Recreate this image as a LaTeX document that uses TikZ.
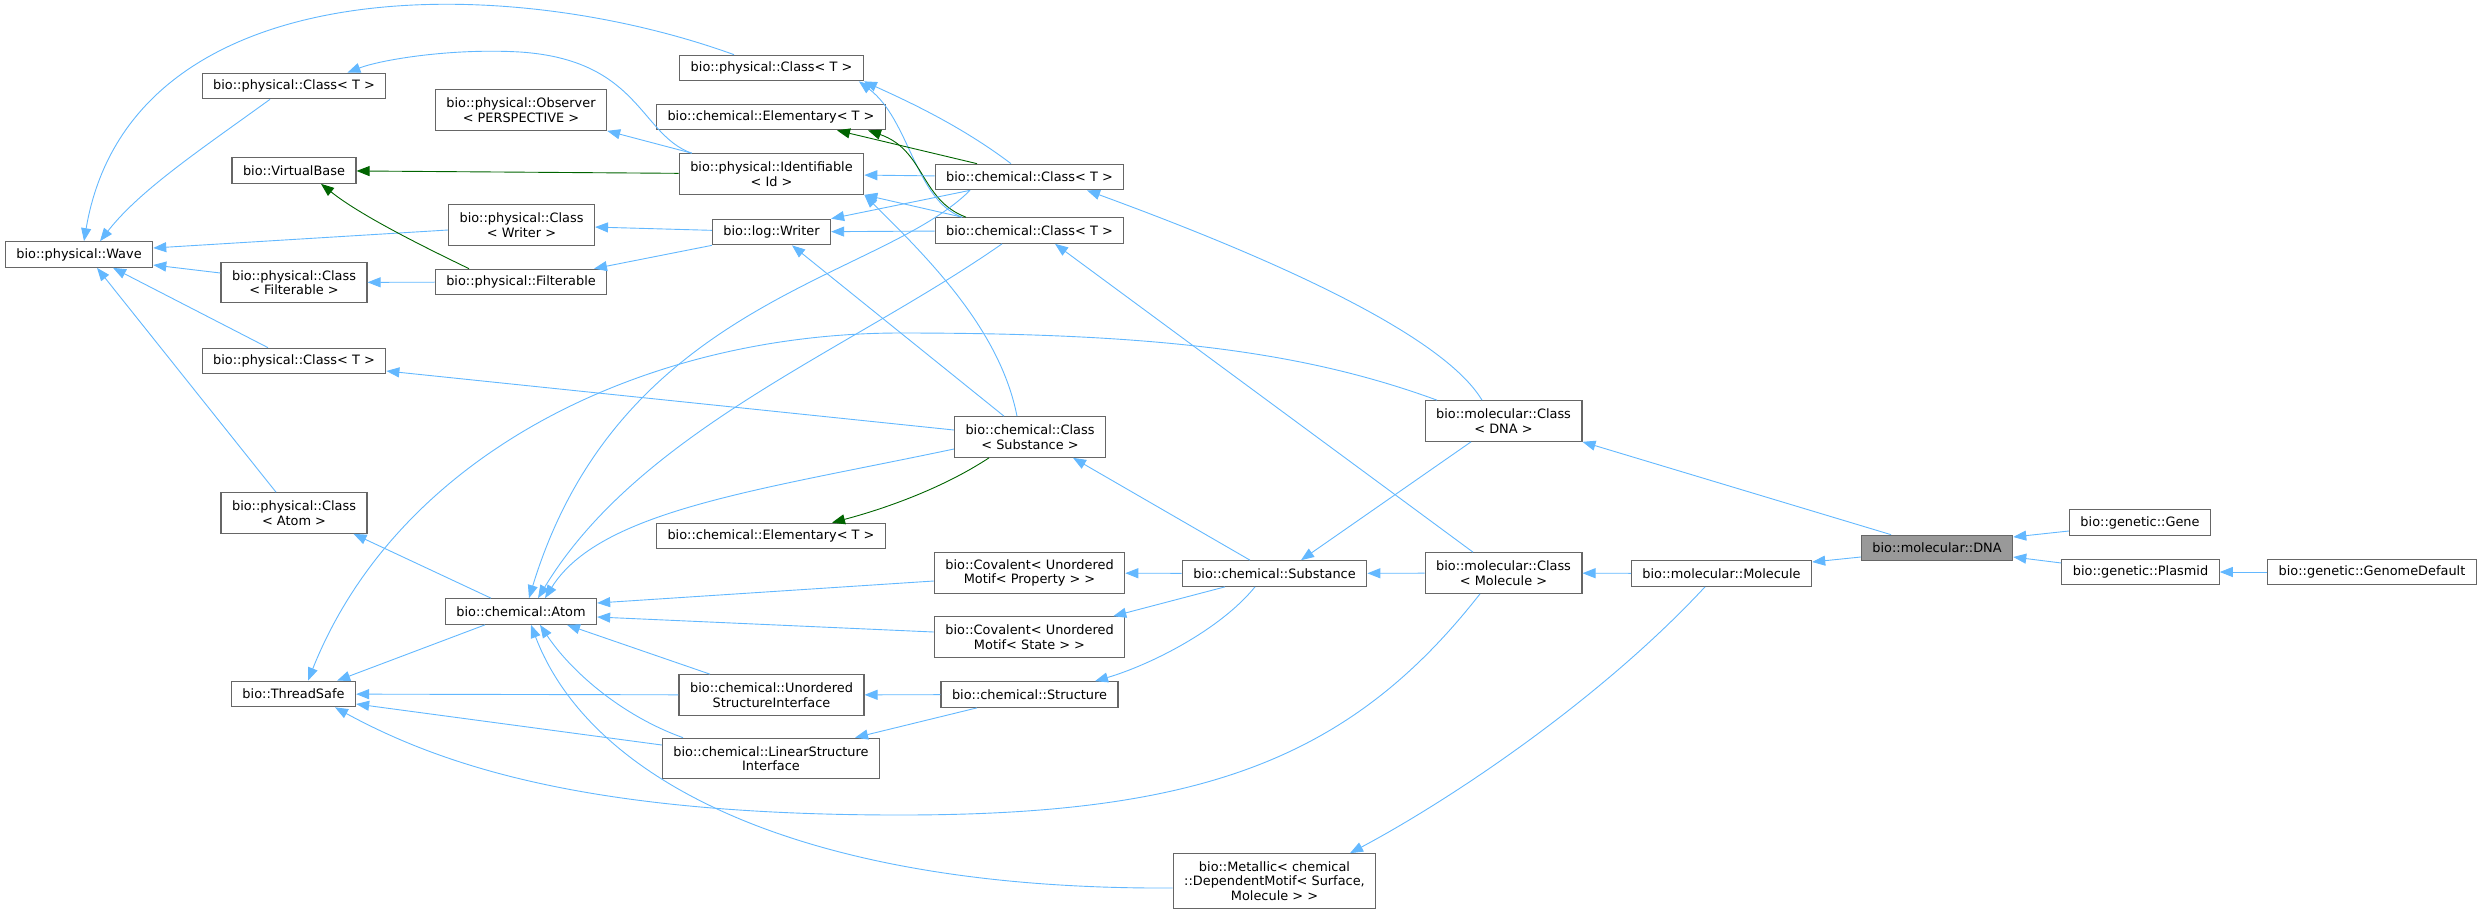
\documentclass[tikz,border=0pt]{standalone}
\usepackage{fontspec}
\setmainfont{DejaVu Sans}
\usetikzlibrary{arrows.meta,positioning}
\definecolor{EdgeBlue}{RGB}{99,184,255}
\definecolor{EdgeGreen}{RGB}{0,100,0}
\definecolor{BoxGrey}{RGB}{102,102,102}
\definecolor{FocusGrey}{RGB}{153,153,153}

\begin{document}
\begin{tikzpicture}[x=1pt,y=-1pt,
  cls/.style={draw=BoxGrey,line width=1.2pt,fill=white,inner xsep=11pt,inner ysep=2pt,
    minimum height=25.5pt,align=center,font=\fontsize{12.9}{14.5}\selectfont},
  two/.style={minimum height=40.5pt},
  three/.style={minimum height=54.5pt},
  inh/.style={-{Triangle[length=13pt,width=10pt]},EdgeBlue,line width=0.9pt},
  vinh/.style={-{Triangle[length=13pt,width=10pt]},EdgeGreen,line width=0.9pt}]
  \useasboundingbox (0,0) rectangle (2483,914);

  \node[cls] (wave) at (79,254.5) {bio::physical::Wave};
  \node[cls] (physA) at (294,86) {bio::physical::Class< T >};
  \node[cls] (physB) at (771.5,68) {bio::physical::Class< T >};
  \node[cls] (physC) at (294,361) {bio::physical::Class< T >};
  \node[cls,two] (observer) at (521,110) {bio::physical::Observer\\< PERSPECTIVE >};
  \node[cls] (vbase) at (294,170.5) {bio::VirtualBase};
  \node[cls,two] (clsWriter) at (521.5,225) {bio::physical::Class\\< Writer >};
  \node[cls,two] (clsFilt) at (294,282.5) {bio::physical::Class\\< Filterable >};
  \node[cls] (filterable) at (521,282) {bio::physical::Filterable};
  \node[cls,two] (clsAtom) at (294,513) {bio::physical::Class\\< Atom >};
  \node[cls,two] (ident) at (771.5,174) {bio::physical::Identifiable\\< Id >};
  \node[cls] (elemA) at (771,117) {bio::chemical::Elementary< T >};
  \node[cls] (writer) at (771.5,232) {bio::log::Writer};
  \node[cls] (chemA) at (1029.5,177) {bio::chemical::Class< T >};
  \node[cls] (chemB) at (1029.5,230.5) {bio::chemical::Class< T >};
  \node[cls,two] (chemSub) at (1030,437) {bio::chemical::Class\\< Substance >};
  \node[cls] (elemB) at (771,536) {bio::chemical::Elementary< T >};
  \node[cls,two] (covProp) at (1029.5,573) {bio::Covalent< Unordered\\Motif< Property > >};
  \node[cls,two] (covState) at (1029.5,637) {bio::Covalent< Unordered\\Motif< State > >};
  \node[cls] (atom) at (521,611.5) {bio::chemical::Atom};
  \node[cls] (safe) at (293.5,694) {bio::ThreadSafe};
  \node[cls,two] (usi) at (771.5,695) {bio::chemical::Unordered\\StructureInterface};
  \node[cls] (structure) at (1029.5,694.5) {bio::chemical::Structure};
  \node[cls,two] (lsi) at (771,758.5) {bio::chemical::LinearStructure\\Interface};
  \node[cls] (substance) at (1274.5,573.5) {bio::chemical::Substance};
  \node[cls,two] (molDNA) at (1503.5,421) {bio::molecular::Class\\< DNA >};
  \node[cls,two] (molMol) at (1503.5,573) {bio::molecular::Class\\< Molecule >};
  \node[cls] (molecule) at (1721.5,573.5) {bio::molecular::Molecule};
  \node[cls,three] (metallic) at (1274.5,881) {bio::Metallic< chemical\\::DependentMotif< Surface,\\Molecule > >};
  \node[cls,fill=FocusGrey] (dna) at (1937,548) {bio::molecular::DNA};
  \node[cls] (gene) at (2140,522.5) {bio::genetic::Gene};
  \node[cls] (plasmid) at (2140.5,572) {bio::genetic::Plasmid};
  \node[cls] (genome) at (2372,572) {bio::genetic::GenomeDefault};

  \draw[inh] ([xshift=-24pt]physA.south) .. controls (200,150) and (140,190) .. ([xshift=21pt]wave.north);
  \draw[inh] ([xshift=-37.5pt]physB.north) .. controls (500,-30) and (130,-30) .. ([xshift=5pt]wave.north);
  \draw[inh] ([yshift=-5pt]clsWriter.west) -- ([yshift=6.5pt]wave.east);
  \draw[inh] ([yshift=9.5pt]clsFilt.west) -- ([yshift=-10.5pt]wave.east);
  \draw[inh] ([xshift=-26pt]physC.north) -- ([xshift=34pt]wave.south);
  \draw[inh] ([xshift=-18pt]clsAtom.north) -- ([xshift=18pt]wave.south);
  \draw[inh] ([xshift=13pt]ident.north west) .. controls (640,135) and (640,60) .. (520,52)
    .. controls (450,48) and (380,60) .. ([xshift=-39pt]physA.north east);
  \draw[inh] ([xshift=13pt]ident.north west) -- (observer.south east);
  \draw[vinh] (ident) -- (vbase);
  \draw[vinh] ([xshift=-52pt]filterable.north) .. controls (420,245) and (360,215) .. ([xshift=27pt]vbase.south);
  \draw[inh] (writer) -- (clsWriter);
  \draw[inh] (filterable) -- (clsFilt);
  \draw[inh] (writer.south west) -- ([xshift=73pt]filterable.north);
  \draw[inh] ([xshift=-18.5pt]chemA.north) .. controls (960,125) and (905,100) .. (physB.south east);
  \draw[inh] ([xshift=-67.5pt]chemB.north) .. controls (915,200) and (910,120) .. ([xshift=-5pt]physB.south east);
  \draw[vinh] ([xshift=-52.5pt]chemA.north) -- ([xshift=66pt]elemA.south);
  \draw[vinh] ([xshift=-63.5pt]chemB.north) .. controls (920,200) and (925,150) .. ([xshift=97pt]elemA.south);
  \draw[inh] (chemA) -- (ident);
  \draw[inh] ([xshift=-67.5pt]chemB.north) -- (ident.south east);
  \draw[inh] ([xshift=-59.5pt]chemA.south) -- (writer.north east);
  \draw[inh] (chemB) -- (writer);
  \draw[inh] ([xshift=-13pt]chemSub.north) .. controls (1000,330) and (930,260) .. (ident.south east);
  \draw[inh] ([xshift=-26pt]chemSub.north) -- ([xshift=20.5pt]writer.south);
  \draw[inh] ([xshift=-59.5pt]chemA.south) .. controls (880,280) and (620,300) .. ([xshift=8pt]atom.north);
  \draw[inh] ([xshift=-27.5pt]chemB.south) .. controls (850,350) and (640,430) .. ([xshift=17pt]atom.north);
  \draw[inh] ([yshift=7pt]chemSub.west) -- ([yshift=-10pt]physC.east);
  \draw[inh] ([yshift=-12pt]chemSub.west) .. controls (760,490) and (600,510) .. ([xshift=24pt]atom.north);
  \draw[vinh] ([xshift=-41pt]chemSub.south) .. controls (940,490) and (880,510) .. ([xshift=61pt]elemB.north);
  \draw[inh] ([xshift=-30pt]atom.north) -- ([xshift=-14pt]clsAtom.south east);
  \draw[inh] ([yshift=-8pt]covProp.west) -- ([yshift=8.5pt]atom.east);
  \draw[inh] ([yshift=5pt]covState.west) -- ([yshift=-5.5pt]atom.east);
  \draw[inh] ([xshift=-61.5pt]usi.north) -- ([xshift=46pt]atom.south);
  \draw[inh] ([xshift=-88pt]lsi.north) .. controls (620,715) and (570,670) .. ([xshift=19pt]atom.south);
  \draw[inh] ([yshift=-7pt]metallic.west) .. controls (800,890) and (590,780) .. ([xshift=10pt]atom.south);
  \draw[inh] ([xshift=-36pt]atom.south) -- ([xshift=-19pt]safe.north east);
  \draw[inh] (usi) -- (safe);
  \draw[inh] ([yshift=13.5pt]lsi.west) -- ([yshift=-10pt]safe.east);
  \draw[inh] ([xshift=-23.5pt]molMol.south) .. controls (1350,760) and (1200,815) .. (900,815)
    .. controls (600,815) and (450,770) .. ([xshift=41.5pt]safe.south);
  \draw[inh] ([xshift=-66.5pt]molDNA.north) .. controls (1300,350) and (1150,333) .. (900,333)
    .. controls (650,333) and (400,450) .. ([xshift=14.5pt]safe.north);
  \draw[inh] ([xshift=-21.5pt]molDNA.north) .. controls (1440,330) and (1250,250) .. ([xshift=57.5pt]chemA.south);
  \draw[inh] ([xshift=-32.5pt]molDNA.south) -- ([xshift=26.5pt]substance.north);
  \draw[inh] ([xshift=-46pt]dna.north) -- (molDNA.south east);
  \draw[inh] ([xshift=-30.5pt]molMol.north) -- ([xshift=25.5pt]chemB.south);
  \draw[inh] ([xshift=-24.5pt]substance.north) -- ([xshift=43pt]chemSub.south);
  \draw[inh] (substance) -- (covProp);
  \draw[inh] ([xshift=-49.5pt]substance.south) -- ([xshift=-12pt]covState.north east);
  \draw[inh] ([xshift=-19.5pt]substance.south) .. controls (1220,630) and (1150,665) .. ([xshift=65.5pt]structure.north);
  \draw[inh] (structure) -- (usi);
  \draw[inh] ([xshift=-52.5pt]structure.south) -- ([xshift=84pt]lsi.north);
  \draw[inh] (molMol) -- (substance);
  \draw[inh] (molecule) -- (molMol);
  \draw[inh] ([yshift=-9pt]dna.west) -- ([yshift=11.5pt]molecule.east);
  \draw[inh] ([xshift=-16.5pt]molecule.south) .. controls (1600,700) and (1450,800) .. ([xshift=75.5pt]metallic.north);
  \draw[inh] ([yshift=-8.5pt]gene.west) -- ([yshift=11pt]dna.east);
  \draw[inh] ([yshift=9pt]plasmid.west) -- ([yshift=-9pt]dna.east);
  \draw[inh] (genome) -- (plasmid);
\end{tikzpicture}
\end{document}
